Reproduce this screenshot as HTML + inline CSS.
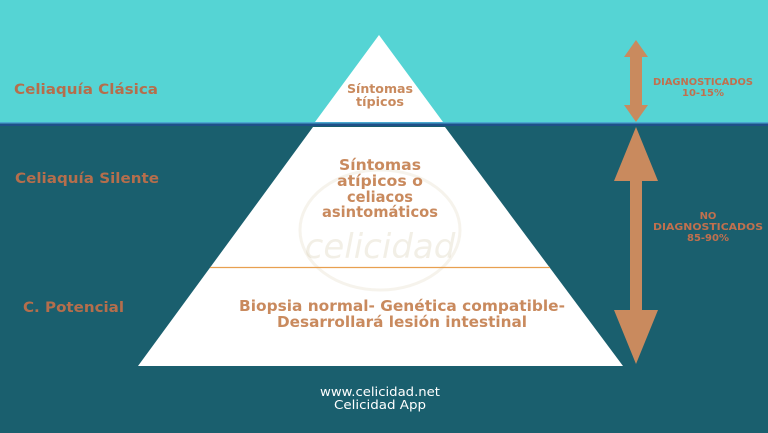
<!DOCTYPE html>
<html><head><meta charset="utf-8"><style>
html,body{margin:0;padding:0;width:768px;height:433px;overflow:hidden;background:#1a5f6e}
svg{display:block}
text{font-family:"DejaVu Sans","Liberation Sans",sans-serif;font-weight:bold}
text.n{font-family:"DejaVu Sans","Liberation Sans",sans-serif;font-weight:normal}
</style></head><body>
<svg width="768" height="433" viewBox="0 0 768 433" xmlns="http://www.w3.org/2000/svg">
<rect x="0" y="0" width="768" height="433" fill="#1a5f6e"/>
<rect x="0" y="0" width="768" height="123" fill="#55d4d4"/>
<rect x="0" y="122" width="768" height="1.5" fill="#4aa8d0"/>
<rect x="0" y="123.5" width="768" height="2.5" fill="#1f4f88"/>
<polygon points="379,35 443,122 315,122" fill="#ffffff"/>
<polygon points="313,127 445,127 623,366 138,366" fill="#ffffff"/>
<g opacity="0.12" fill="none" stroke="#b8a060" stroke-width="3">
<ellipse cx="380" cy="230" rx="80" ry="60"/>
</g>
<text class="n" x="380" y="258" font-size="34" fill="#c8b890" opacity="0.22" text-anchor="middle" font-style="italic">celicidad</text>
<line x1="210" y1="267.5" x2="550" y2="267.5" stroke="#e8a050" stroke-width="1.2"/>
<text x="14" y="94" font-size="14" fill="#b56e4c" textLength="144" lengthAdjust="spacingAndGlyphs">Celiaquía Clásica</text>
<text x="15" y="183" font-size="14" fill="#b56e4c" textLength="144" lengthAdjust="spacingAndGlyphs">Celiaquía Silente</text>
<text x="23" y="312" font-size="14" fill="#b56e4c" textLength="101" lengthAdjust="spacingAndGlyphs">C. Potencial</text>
<g fill="#c98a5e" text-anchor="middle">
<text x="380" y="93" font-size="12.5" textLength="66" lengthAdjust="spacingAndGlyphs">Síntomas</text>
<text x="380" y="106" font-size="12.5" textLength="48" lengthAdjust="spacingAndGlyphs">típicos</text>
<text x="380" y="170" font-size="15" textLength="82" lengthAdjust="spacingAndGlyphs">Síntomas</text>
<text x="380" y="186" font-size="15" textLength="86" lengthAdjust="spacingAndGlyphs">atípicos o</text>
<text x="380" y="202" font-size="15" textLength="66" lengthAdjust="spacingAndGlyphs">celiacos</text>
<text x="380" y="217" font-size="15" textLength="116" lengthAdjust="spacingAndGlyphs">asintomáticos</text>
<text x="402" y="311" font-size="15" textLength="326" lengthAdjust="spacingAndGlyphs">Biopsia normal- Genética compatible-</text>
<text x="402" y="327" font-size="15" textLength="250" lengthAdjust="spacingAndGlyphs">Desarrollará lesión intestinal</text>
</g>
<g fill="#c98a5e">
<polygon points="636,40 648,57 642,57 642,105 648,105 636,122 624,105 630,105 630,57 624,57"/>
<polygon points="636,127 658,181 642,181 642,310 658,310 636,364 614,310 630,310 630,181 614,181"/>
</g>
<g fill="#c0704e" text-anchor="middle" font-size="10">
<text x="703" y="85" textLength="100" lengthAdjust="spacingAndGlyphs">DIAGNOSTICADOS</text>
<text x="703" y="96">10-15%</text>
<text x="708" y="219">NO</text>
<text x="708" y="230" textLength="110" lengthAdjust="spacingAndGlyphs">DIAGNOSTICADOS</text>
<text x="708" y="241">85-90%</text>
</g>
<g fill="#ffffff" text-anchor="middle" font-size="12">
<text class="n" x="380" y="396" textLength="120" lengthAdjust="spacingAndGlyphs">www.celicidad.net</text>
<text class="n" x="380" y="409" textLength="92" lengthAdjust="spacingAndGlyphs">Celicidad App</text>
</g>
</svg>
</body></html>
